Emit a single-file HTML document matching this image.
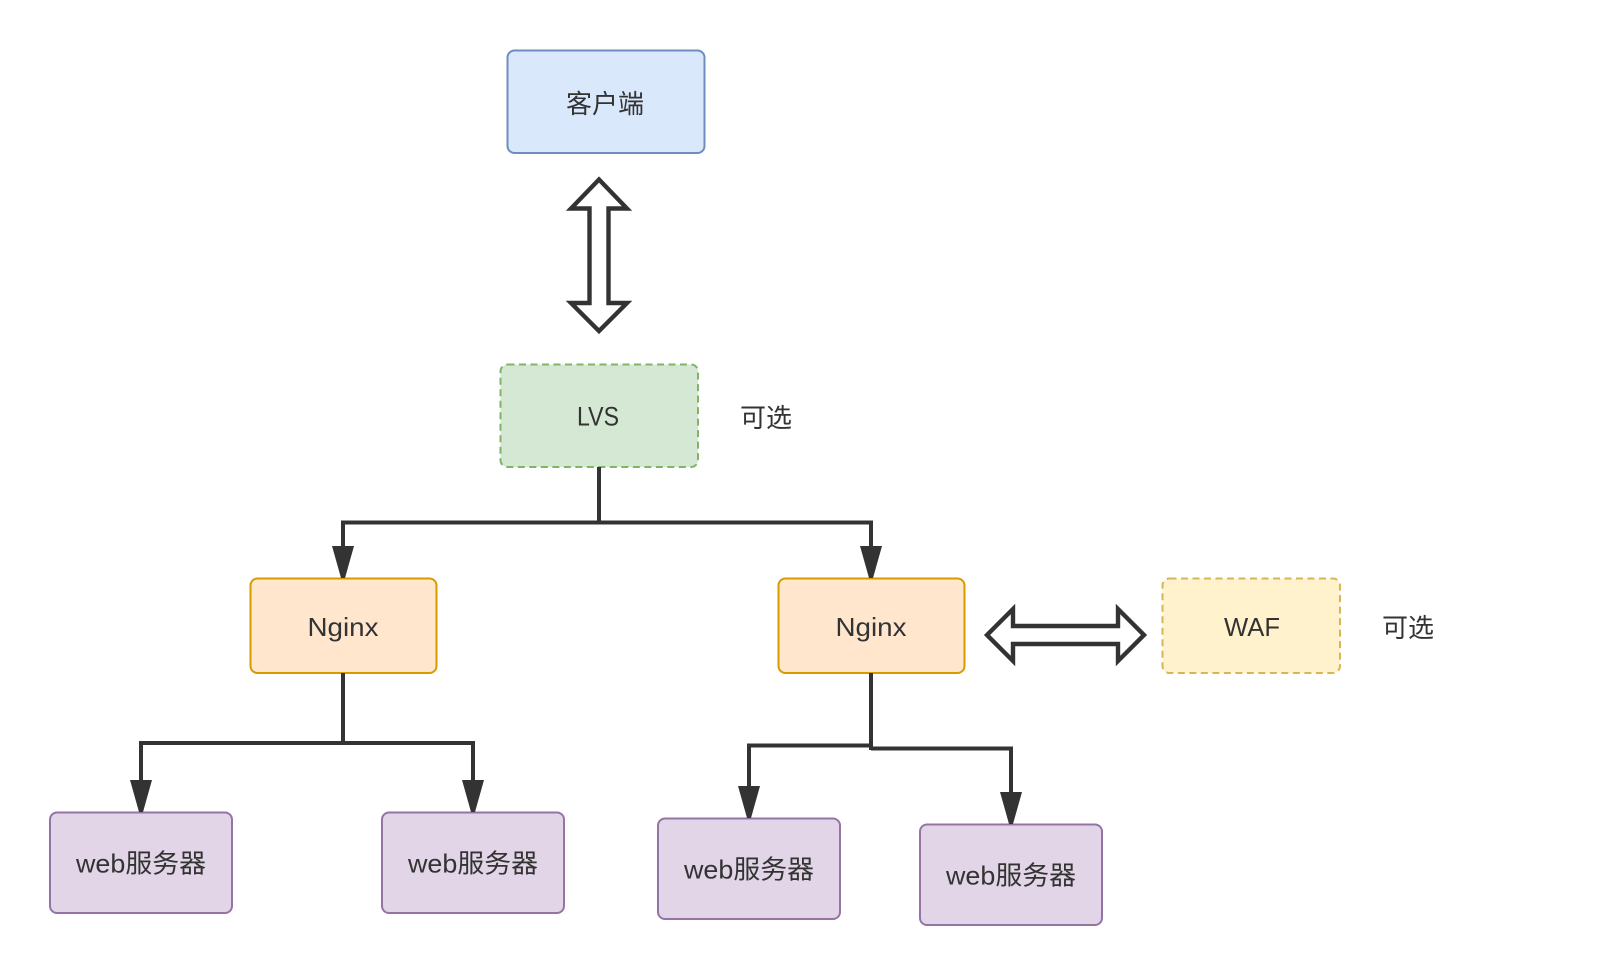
<!DOCTYPE html>
<html>
<head>
<meta charset="utf-8">
<style>
html,body{margin:0;padding:0;background:#fff;width:1618px;height:974px;overflow:hidden}
svg{display:block}
text{font-family:"Liberation Sans","Noto Sans CJK SC",sans-serif;font-size:26px;fill:#333;text-anchor:middle}
</style>
</head>
<body>
<svg width="1618" height="974" viewBox="0 0 1618 974" xmlns="http://www.w3.org/2000/svg">
<rect width="1618" height="974" fill="#fff"/>
<g stroke-width="2">
<rect x="507.5" y="50.5" width="197" height="102.5" rx="7" fill="#dae8fc" stroke="#6c8ebf"/>
<rect x="500.5" y="364.5" width="197.5" height="102.5" rx="7" fill="#d5e8d4" stroke="#82b366" stroke-dasharray="7 4.5"/>
<rect x="250.5" y="578.5" width="186" height="94.5" rx="7" fill="#ffe6cc" stroke="#d79b00"/>
<rect x="778.5" y="578.5" width="186" height="94.5" rx="7" fill="#ffe6cc" stroke="#d79b00"/>
<rect x="1162.5" y="578.5" width="177.5" height="94.5" rx="7" fill="#fff2cc" stroke="#d6b656" stroke-dasharray="7 4.5"/>
<rect x="50" y="812.5" width="182" height="100.5" rx="7" fill="#e1d5e7" stroke="#9673a6"/>
<rect x="382" y="812.5" width="182" height="100.5" rx="7" fill="#e1d5e7" stroke="#9673a6"/>
<rect x="658" y="818.5" width="182" height="100.5" rx="7" fill="#e1d5e7" stroke="#9673a6"/>
<rect x="920" y="824.5" width="182" height="100.5" rx="7" fill="#e1d5e7" stroke="#9673a6"/>
</g>
<g fill="none" stroke="#333" stroke-width="4">
<path d="M599 467V524.5M343 552V522.5H871V552"/>
<path d="M343 673V745M141 786V743H473V786"/>
<path d="M871 673V750M749 792V745.5H871M871 748.5H1011V798"/>
</g>
<g fill="#333">
<polygon points="332,546 354,546 345,578 341,578"/>
<polygon points="860,546 882,546 873,578 869,578"/>
<polygon points="130,780 152,780 143,812 139,812"/>
<polygon points="462,780 484,780 475,812 471,812"/>
<polygon points="738,786 760,786 751,818 747,818"/>
<polygon points="1000,792 1022,792 1013,824 1009,824"/>
</g>
<g fill="#fff" stroke="#333" stroke-width="4.4" stroke-miterlimit="10">
<polygon points="599,179.5 627,208.5 608.5,208.5 608.5,303 627,303 599,331 571,303 589.5,303 589.5,208.5 571,208.5"/>
<polygon points="987,635 1013,609 1013,626 1118,626 1118,609 1144,635 1118,661 1118,644 1013,644 1013,661"/>
</g>
<text x="605" y="113">客户端</text>
<text x="598" y="425.5" textLength="42" lengthAdjust="spacingAndGlyphs" style="font-size:27px">LVS</text>
<text x="766" y="427">可选</text>
<text x="343" y="636" textLength="71" lengthAdjust="spacingAndGlyphs">Nginx</text>
<text x="871" y="636" textLength="71" lengthAdjust="spacingAndGlyphs">Nginx</text>
<text x="1252" y="636" textLength="56" lengthAdjust="spacingAndGlyphs">WAF</text>
<text x="1408" y="637">可选</text>
<text x="141" y="872.5" textLength="130" lengthAdjust="spacingAndGlyphs">web服务器</text>
<text x="473" y="872.5" textLength="130" lengthAdjust="spacingAndGlyphs">web服务器</text>
<text x="749" y="878.5" textLength="130" lengthAdjust="spacingAndGlyphs">web服务器</text>
<text x="1011" y="884.5" textLength="130" lengthAdjust="spacingAndGlyphs">web服务器</text>
</svg>
</body>
</html>
